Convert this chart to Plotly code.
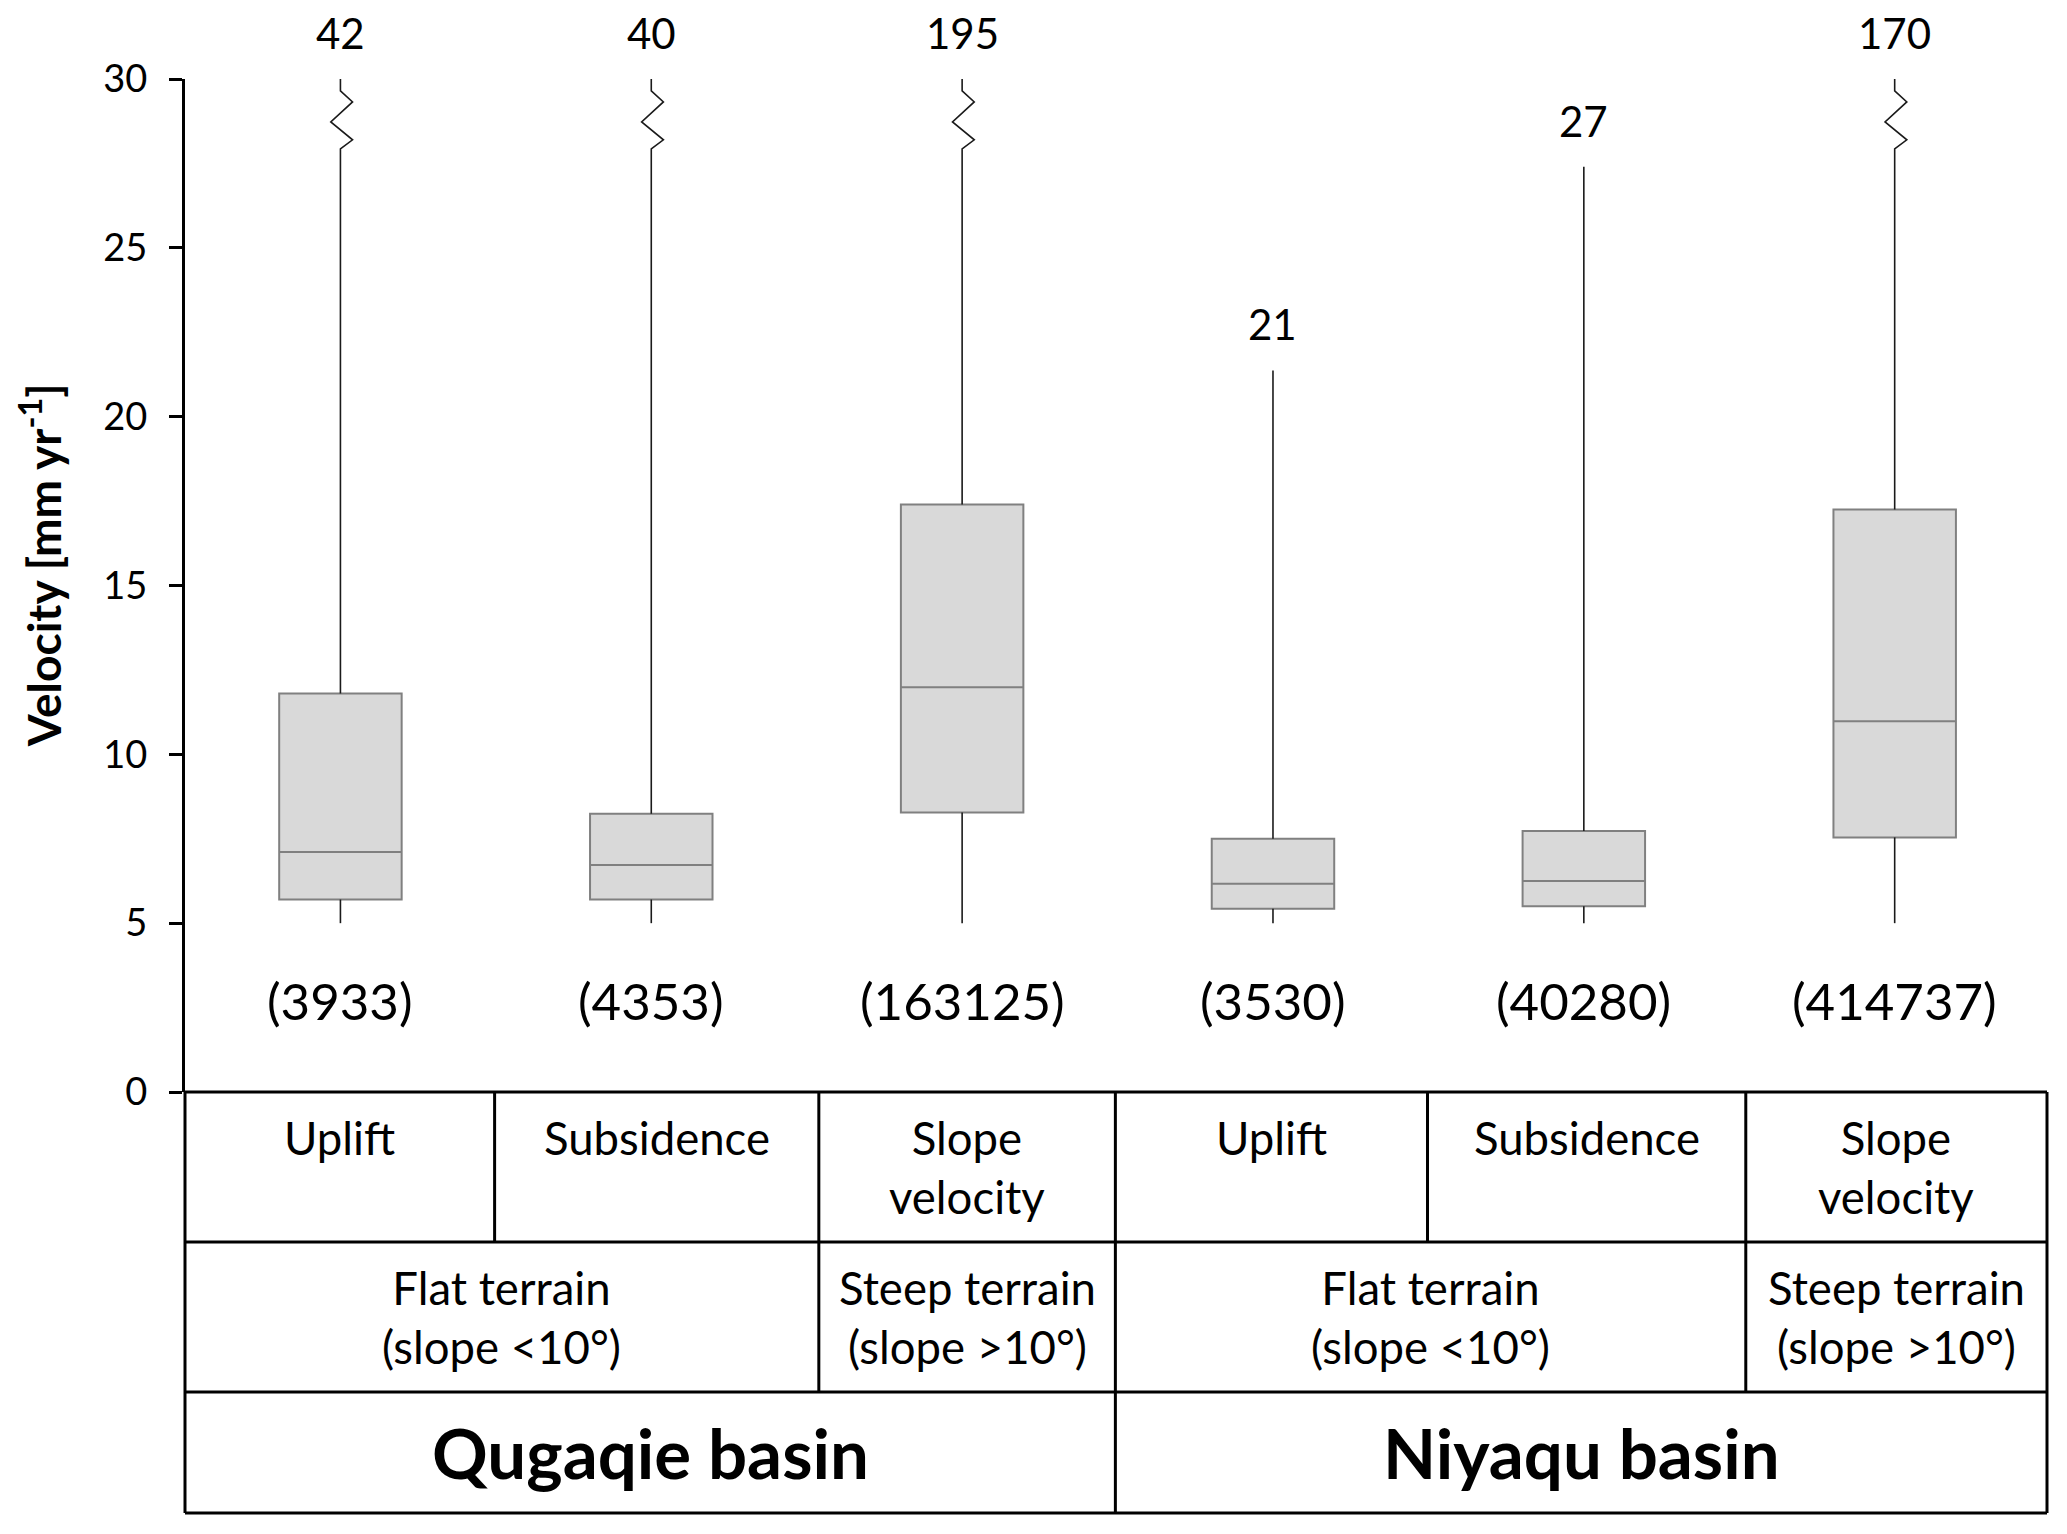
import plotly.graph_objects as go

# ---------------- data ----------------
categories = ["Uplift", "Subsidence", "Slope<br>velocity",
              "Uplift", "Subsidence", "Slope<br>velocity"]
terrain_labels = ["Flat terrain<br>(slope <10°)", "Steep terrain<br>(slope >10°)",
                  "Flat terrain<br>(slope <10°)", "Steep terrain<br>(slope >10°)"]
basin_labels = ["Qugaqie basin", "Niyaqu basin"]
counts = [3933, 4353, 163125, 3530, 40280, 414737]
q1 = [5.70, 5.70, 8.28, 5.43, 5.50, 7.54]
median = [7.11, 6.72, 11.99, 6.17, 6.25, 10.98]
q3 = [11.80, 8.24, 17.40, 7.50, 7.73, 17.25]
whisker_low = [5, 5, 5, 5, 5, 5]
max_vel = [42, 40, 195, 21.37, 27.4, 170]
y_ticks = [0, 5, 10, 15, 20, 25, 30]

# ---------------- layout constants ----------------
W, H = 2059, 1526          # page has an 8px body margin
ML, MR, MT, MB = 177, 20, 71, 442
Y_CAP = 30
X0, X1 = -0.5, 5.49
FONT = "Lato"
plot_h = H - MT - MB

# table boundaries (x in category units) per row
row1_bounds = [-0.5, 0.496, 1.539, 2.493, 3.497, 4.521, 5.49]
row2_bounds = [-0.5, 1.539, 2.493, 4.521, 5.49]
row3_bounds = [-0.5, 2.493, 5.49]
row_px = [0, 150, 300, 421]  # px below the y=0 line


def px_x(x):
    return (x - X0) / (X1 - X0)


def py(p):
    return -p / plot_h


x_pos = list(range(len(categories)))

fig = go.Figure()

# boxes (whiskers drawn separately)
fig.add_trace(go.Box(
    x=x_pos, q1=q1, median=median, q3=q3,
    lowerfence=q1, upperfence=q3,
    width=0.394, whiskerwidth=0,
    fillcolor="#d9d9d9", line=dict(color="#808080", width=2),
    boxpoints=False, hoverinfo="skip", showlegend=False,
))

# whiskers with break symbol where the maximum exceeds the axis cap
brk_dy = [0.35, 0.68, 1.27, 1.80, 2.07]
brk_dx = [0.0, 0.039, -0.031, 0.039, 0.0]
wx, wy = [], []
for x, lo, a, b, mx in zip(x_pos, whisker_low, q1, q3, max_vel):
    wx += [x, x, None]
    wy += [a, lo, None]
    if mx > Y_CAP:
        wx += [x]
        wy += [b]
        for dy, dx in reversed(list(zip(brk_dy, brk_dx))):
            wx.append(x + dx)
            wy.append(Y_CAP - dy)
        wx += [x, None]
        wy += [Y_CAP, None]
    else:
        wx += [x, x, None]
        wy += [b, mx, None]
fig.add_trace(go.Scatter(x=wx, y=wy, mode="lines",
                         line=dict(color="#1a1a1a", width=1.6),
                         hoverinfo="skip", showlegend=False, cliponaxis=False))

annotations = []
# max labels
for x, mx in zip(x_pos, max_vel):
    annotations.append(dict(x=x, y=min(mx, Y_CAP), xref="x", yref="y",
                            text=str(round(mx)), showarrow=False,
                            xanchor="center", yanchor="middle", yshift=46,
                            font=dict(family=FONT, size=42, color="black")))
# count labels
for x, n in zip(x_pos, counts):
    annotations.append(dict(x=x, y=2.7, xref="x", yref="y",
                            text=f"({n})", showarrow=False,
                            xanchor="center", yanchor="middle",
                            font=dict(family=FONT, size=51, color="black")))

shapes = []
LW = 3
# horizontal table lines
for p in row_px:
    shapes.append(dict(type="line", xref="paper", yref="paper",
                       x0=0, x1=1, y0=py(p), y1=py(p),
                       line=dict(color="black", width=LW)))
# vertical lines per row
for bounds, (top, bot) in zip([row1_bounds, row2_bounds, row3_bounds],
                              zip(row_px[:-1], row_px[1:])):
    for b in bounds:
        shapes.append(dict(type="line", xref="paper", yref="paper",
                           x0=px_x(b), x1=px_x(b), y0=py(top), y1=py(bot),
                           line=dict(color="black", width=LW)))


def cell_text(bounds, labels, top, bot, size, shift_single=False, bold=False):
    for i, lab in enumerate(labels):
        cx = px_x((bounds[i] + bounds[i + 1]) / 2)
        cy = py((top + bot) / 2)
        ys = 0
        if shift_single and "<br>" not in lab:
            ys = 29.5
        t = f"<b>{lab}</b>" if bold else lab
        annotations.append(dict(x=cx, y=cy, xref="paper", yref="paper",
                                text=t, showarrow=False,
                                xanchor="center", yanchor="middle",
                                yshift=ys,
                                font=dict(family=FONT, size=size, color="black")))


cell_text(row1_bounds, categories, row_px[0], row_px[1], 45.5, shift_single=True)
cell_text(row2_bounds, terrain_labels, row_px[1], row_px[2], 45.5)
cell_text(row3_bounds, basin_labels, row_px[2], row_px[3], 69, bold=True)

# y-axis title
annotations.append(dict(x=0, y=0.52, xref="paper", yref="paper",
                        xshift=-145, textangle=-90, showarrow=False,
                        xanchor="center", yanchor="middle",
                        text="<b>Velocity [mm yr<sup>-1</sup>]</b>",
                        font=dict(family=FONT, size=46, color="black")))

fig.update_layout(
    width=W, height=H, autosize=False,
    margin=dict(l=ML, r=MR, t=MT, b=MB, pad=0),
    paper_bgcolor="white", plot_bgcolor="white",
    showlegend=False,
    annotations=annotations, shapes=shapes,
    xaxis=dict(range=[X0, X1], visible=False, showgrid=False, zeroline=False),
    yaxis=dict(range=[0, Y_CAP], tickvals=y_ticks, showgrid=False,
               zeroline=False, showline=True, linecolor="black", linewidth=3,
               ticks="outside", ticklen=13, tickwidth=3, tickcolor="black",
               ticklabelstandoff=14,
               tickfont=dict(family=FONT, size=38, color="black")),
)

fig.write_html("out.html")
